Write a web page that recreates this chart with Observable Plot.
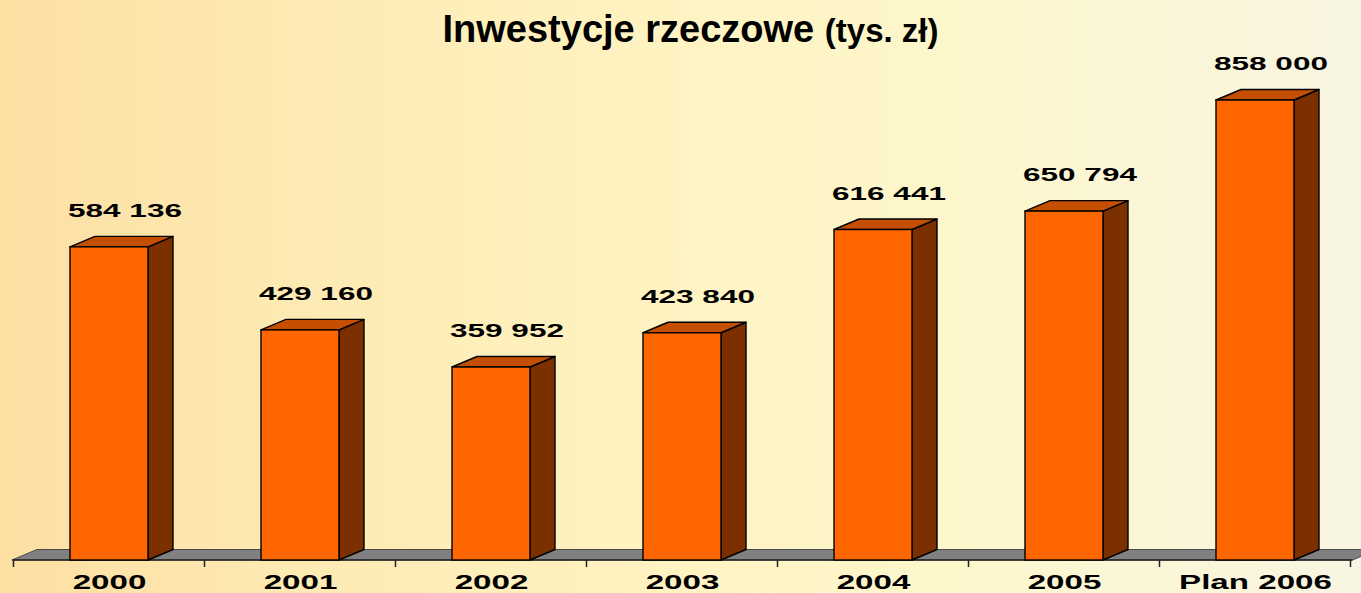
<!DOCTYPE html>
<html><head><meta charset="utf-8">
<script src="https://cdn.jsdelivr.net/npm/d3@7"></script>
<script src="https://cdn.jsdelivr.net/npm/@observablehq/plot@0.6"></script>
<style>
html,body{margin:0;padding:0;width:1361px;height:593px;overflow:hidden;}
body{background:linear-gradient(90deg,#fddfa2 0%,#fde9b2 20%,#fff2c0 45%,#fdf7cc 70%,#f8f5e2 100%);font-family:"Liberation Sans",Arial,sans-serif;}
#wrap{position:relative;width:1361px;height:593px;}
#chart{position:absolute;left:0;top:0;}
#title{position:absolute;top:10px;left:10px;width:1361px;text-align:center;font-weight:bold;font-size:38px;line-height:38px;color:#000;z-index:2;white-space:nowrap;}
#title span{font-size:33px;}
</style></head>
<body><div id="wrap"><div id="chart"></div><div id="title"></div></div>
<script>
const titleMain = "Inwestycje rzeczowe";
const titleUnit = "(tys. zł)";
const categories = ["2000", "2001", "2002", "2003", "2004", "2005", "Plan 2006"];
const values = [584136, 429160, 359952, 423840, 616441, 650794, 858000];

const data = categories.map((c, i) => ({cat: c, value: values[i]}));
const fmt = d3.formatLocale({decimal: ",", thousands: "\u00a0", grouping: [3], currency: ["", " zł"]}).format(",d");

document.getElementById("title").innerHTML = titleMain + " <span>" + titleUnit + "</span>";

const DX = 25, DY = 10.5;
const PI = 0.593;

function floorMark(index, scales, vals, dim) {
  const g = d3.create("svg:g");
  const x0 = dim.marginLeft, x1 = dim.width - dim.marginRight, yb = dim.height - dim.marginBottom;
  g.append("path")
    .attr("d", `M${x0},${yb}L${x1},${yb}L${x1 + DX},${yb - DY}L${x0 + DX},${yb - DY}Z`)
    .attr("fill", "#808080").attr("stroke", "#4a4a4a").attr("stroke-width", 1);
  g.append("line").attr("x1", x0).attr("x2", x1).attr("y1", yb).attr("y2", yb)
    .attr("stroke", "#222").attr("stroke-width", 1.5);
  const sx = scales.x;
  const bw = sx.bandwidth ? sx.bandwidth() : 0;
  const step = sx.step ? sx.step() : (x1 - x0) / categories.length;
  const pad = (step - bw) / 2;
  const edges = categories.map(c => sx(c) - pad);
  edges.push(sx(categories[categories.length - 1]) + bw + pad);
  edges.forEach(x => {
    g.append("line").attr("x1", x).attr("x2", x).attr("y1", yb).attr("y2", yb + 7)
      .attr("stroke", "#222").attr("stroke-width", 1.5);
  });
  return g.node();
}

function boxFaces(index, scales) {
  const g = d3.create("svg:g").attr("stroke", "#000").attr("stroke-width", 1.4).attr("stroke-linejoin", "round");
  const sx = scales.x, sy = scales.y;
  const bw = sx.bandwidth();
  data.forEach(d => {
    const xl = sx(d.cat), xr = xl + bw, yt = sy(d.value), yb = sy(0);
    g.append("path")
      .attr("d", `M${xr},${yt}L${xr + DX},${yt - DY}L${xr + DX},${yb - DY}L${xr},${yb}Z`)
      .attr("fill", "#7c3000");
    g.append("path")
      .attr("d", `M${xl},${yt}L${xl + DX},${yt - DY}L${xr + DX},${yt - DY}L${xr},${yt}Z`)
      .attr("fill", "#c44f00");
  });
  return g.node();
}

const plot = Plot.plot({
  width: 1361,
  height: 593,
  marginLeft: 12,
  marginRight: 8.5,
  marginTop: 100,
  marginBottom: 33,
  x: {type: "band", domain: categories, paddingInner: PI, paddingOuter: PI / 2, label: null},
  y: {domain: [0, d3.max(values)], axis: null},
  style: {background: "transparent", fontFamily: "'Liberation Sans', Arial, sans-serif", fontSize: "20px", fontWeight: "bold", color: "#000"},
  marks: [
    floorMark,
    boxFaces,
    Plot.barY(data, {x: "cat", y: "value", fill: "#ff6600", stroke: "#000", strokeWidth: 1.4}),
    Plot.text(data, {x: "cat", y: "value", text: d => fmt(d.value), dx: DX / 2 + 3, dy: -36, fontSize: 18, fontWeight: "bold", fill: "#000"}),
    Plot.axisX({tickSize: 0, tickPadding: 15, fontSize: 19.5, fontWeight: "bold", fill: "#000", label: null})
  ]
});

function stretch(sel, k) {
  plot.querySelectorAll(sel).forEach(t => {
    const tr = t.getAttribute("transform");
    if (tr && tr.includes("translate")) {
      t.setAttribute("transform", tr + ` scale(${k},1)`);
    } else {
      const x = +(t.getAttribute("x") || 0);
      t.removeAttribute("x");
      t.setAttribute("transform", `translate(${x},0) scale(${k},1)`);
    }
  });
}
stretch('g[aria-label="text"] text', 1.75);
stretch('g[aria-label="x-axis tick label"] text', 1.7);

document.getElementById("chart").appendChild(plot);
</script>
</body></html>
